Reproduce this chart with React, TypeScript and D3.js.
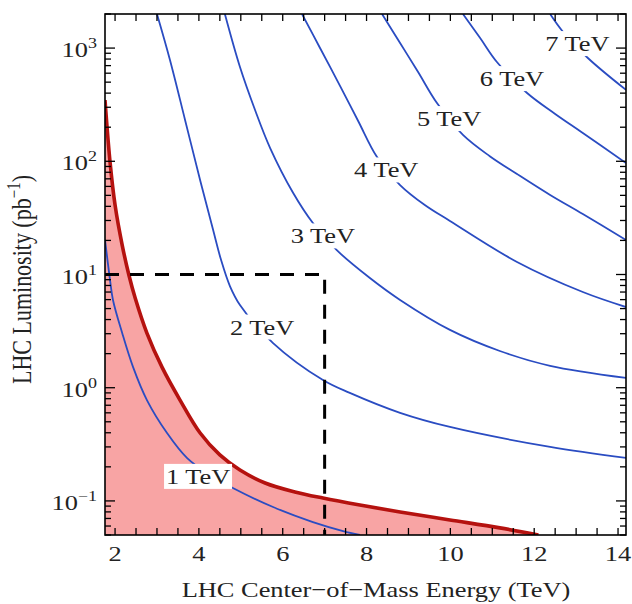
import React from 'react';
import * as d3 from 'd3';

// values (energy in TeV, luminosity in pb^-1)
const redBand = [
  [1.76, 347], [1.88, 98.6], [2.0, 41.1], [2.17, 18.2], [2.33, 9.9], [2.48, 6.2],
  [2.76, 3.04], [3.12, 1.52], [3.55, 0.778], [4.03, 0.398], [4.5, 0.255], [4.98, 0.1875],
  [5.58, 0.144], [6.29, 0.12], [6.96, 0.106], [7.84, 0.092], [8.8, 0.0798], [9.99, 0.0679],
  [11.18, 0.0578], [12.1, 0.05],
];
const tev1 = [
  [1.76, 20.2], [1.88, 8.93], [1.95, 5.96], [2.17, 3.04], [2.43, 1.52], [2.76, 0.778],
  [3.24, 0.398], [3.72, 0.239], [4.27, 0.169], [4.81, 0.13], [5.77, 0.0883], [6.72, 0.0651],
  [7.44, 0.0542], [7.84, 0.05],
];
const tev2 = [
  [3.0, 2000], [3.31, 785], [3.67, 232], [4.03, 68], [4.34, 24.7], [4.53, 13.4], [4.74, 7.91],
  [4.98, 5.38], [5.77, 2.48], [6.96, 1.17], [7.6, 0.9], [8.8, 0.6], [9.99, 0.45], [12.38, 0.3],
  [14.19, 0.24],
];
const tev3 = [
  [4.62, 2000], [4.98, 681], [5.34, 284], [5.7, 131], [6.25, 52.5], [6.72, 28.5], [7.29, 16.4],
  [8.08, 9.31], [8.8, 5.96], [9.99, 3.24], [11.18, 2.11], [12.38, 1.56], [14.19, 1.22],
];
const tev4 = [
  [6.46, 2000], [6.89, 1002], [7.37, 462], [7.8, 227], [8.25, 109], [8.8, 61.7], [9.39, 41.1],
  [9.99, 29.7], [11.59, 12.9], [13.16, 7.0], [14.19, 5.16],
];
const tev5 = [
  [8.37, 2000], [8.8, 1109], [9.23, 615], [9.68, 327], [10.3, 171], [10.94, 111], [11.59, 77.2],
  [12.38, 50.4], [13.16, 34.2], [14.19, 20.2],
];
const tev6 = [
  [10.3, 2000], [10.71, 1227], [11.11, 753], [11.83, 401], [12.5, 262], [13.16, 178], [14.19, 96.6],
];
const tev7 = [[12.38, 2000], [12.69, 1387], [13.28, 817], [14.19, 427]];

const massCurves = [tev1, tev2, tev3, tev4, tev5, tev6, tev7];
const massLabels = ['1 TeV', '2 TeV', '3 TeV', '4 TeV', '5 TeV', '6 TeV', '7 TeV'];
// where each label sits, in data units
const labelE = [3.98, 5.51, 6.96, 8.47, 9.97, 11.47, 13.03];
const labelL = [0.163, 3.4, 21.7, 83, 236, 532, 1085];

const benchmarkE = 7;
const benchmarkL = 10;

const xTickLabels = [2, 4, 6, 8, 10, 12, 14];
const yTickValues = [0.1, 1, 10, 100, 1000];
const yTickExps = ['\u22121', '0', '1', '2', '3'];

const FONT = '"Liberation Serif", "Times New Roman", serif';
const SX = 1.2; // the reference is stretched sideways

export default function App() {
  const left = 105, right = 626, top = 14, bottom = 535;
  const x = d3.scaleLinear().domain([1.76, 14.19]).range([left, right]);
  const y = d3.scaleLog().domain([0.05, 2000]).range([bottom, top]);

  const line = d3.line<number[]>()
    .x(d => x(d[0]))
    .y(d => y(d[1]))
    .curve(d3.curveCatmullRom.alpha(0.5));
  const area = d3.area<number[]>()
    .x(d => x(d[0]))
    .y0(bottom)
    .y1(d => y(d[1]))
    .curve(d3.curveCatmullRom.alpha(0.5));

  const xMinor = d3.range(2, 14.01, 0.5);
  const yMinor: number[] = [];
  for (let k = -2; k <= 3; k++) {
    for (let m = 1; m <= 9; m++) {
      const v = m * Math.pow(10, k);
      if (v >= 0.05 && v <= 2000) yMinor.push(v);
    }
  }

  const dash = d3.line()([
    [left, y(benchmarkL)],
    [x(benchmarkE), y(benchmarkL)],
    [x(benchmarkE), bottom],
  ]);

  return (
    <svg width={632} height={604} style={{ position: 'absolute', left: 0, top: 0, background: '#fff' }}
      fontFamily={FONT}>
      <defs>
        <clipPath id="plot">
          <rect x={left} y={top} width={right - left} height={bottom - top} />
        </clipPath>
      </defs>
      <rect x={0} y={0} width={632} height={604} fill="#fff" />
      <g clipPath="url(#plot)">
        <path d={area(redBand) || ''} fill="#f8a4a4" />
        {massCurves.map((c, i) => (
          <path key={i} d={line(c) || ''} fill="none" stroke="#2a4cc2" strokeWidth={1.8} />
        ))}
        <path d={line(redBand) || ''} fill="none" stroke="#b5120f" strokeWidth={3.6} />
        <path d={dash || ''} fill="none" stroke="#000" strokeWidth={3} strokeDasharray="14 11" />
        {massLabels.map((t, i) => (
          <g key={t} transform={`translate(${x(labelE[i])},${y(labelL[i])})`}>
            <rect x={-34} y={-13} width={68} height={25} fill="#fff" />
            <text transform={`scale(${SX},1)`} textAnchor="middle" y={7} fontSize={22} fill="#222">{t}</text>
          </g>
        ))}
      </g>

      {/* ticks, inward on all four sides */}
      {xMinor.map(v => (
        <g key={'x' + v} stroke="#000" strokeWidth={1.3}>
          <line x1={x(v)} x2={x(v)} y1={bottom} y2={bottom - 7} />
          <line x1={x(v)} x2={x(v)} y1={top} y2={top + 7} />
        </g>
      ))}
      {yMinor.map(v => {
        const major = yTickValues.includes(v);
        const len = major ? 10 : 6;
        return (
          <g key={'y' + v} stroke="#000" strokeWidth={1.3}>
            <line x1={left} x2={left + len} y1={y(v)} y2={y(v)} />
            <line x1={right} x2={right - len} y1={y(v)} y2={y(v)} />
          </g>
        );
      })}
      <rect x={left} y={top} width={right - left} height={bottom - top} fill="none" stroke="#000" strokeWidth={1.6} />

      {xTickLabels.map(v => (
        <text key={v} transform={`translate(${x(v)},561) scale(${SX},1)`} textAnchor="middle"
          fontSize={22} fill="#222">{v}</text>
      ))}
      {yTickValues.map((v, i) => (
        <text key={v} transform={`translate(97,${y(v) + 9}) scale(${SX},1)`} textAnchor="end"
          fontSize={22} fill="#222">
          10<tspan fontSize={15} dy={-9}>{yTickExps[i]}</tspan>
        </text>
      ))}

      <text transform={`translate(376,597) scale(${SX},1)`} textAnchor="middle" fontSize={22} fill="#222">
        LHC Center{'\u2212'}of{'\u2212'}Mass Energy (TeV)
      </text>
      <text transform={`translate(31,${(top + bottom) / 2 + 5}) rotate(-90) scale(1,${SX})`} textAnchor="middle"
        fontSize={22} fill="#222">
        LHC Luminosity (pb<tspan fontSize={15} dy={-9}>{'\u22121'}</tspan><tspan dy={9}>)</tspan>
      </text>
    </svg>
  );
}
